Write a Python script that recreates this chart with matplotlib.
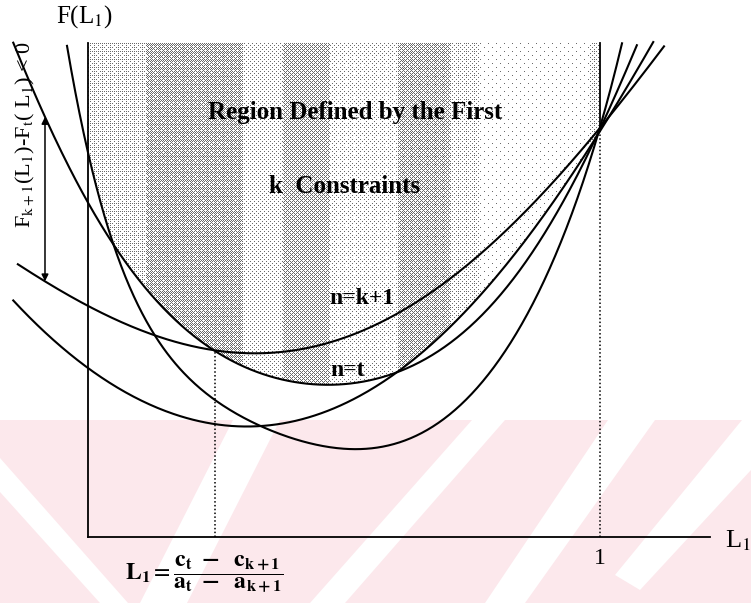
import numpy as np
import matplotlib.pyplot as plt
from matplotlib.patches import Polygon

plt.rcParams['font.family'] = 'Liberation Serif'
plt.rcParams['mathtext.fontset'] = 'stix'

# F_n(L1) (L1, F)
t_L = [-0.146, -0.084, 0.0, 0.047, 0.141, 0.248, 0.381, 0.492, 0.576, 0.609, 0.707, 0.805, 0.980, 1.0, 1.072]
t_F = [1.214, 1.034, 0.816, 0.730, 0.570, 0.452, 0.393, 0.376, 0.386, 0.408, 0.479, 0.595, 0.951, 1.0, 1.209]

k1_L = [-0.137, -0.084, 0.0, 0.141, 0.248, 0.350, 0.479, 0.596, 0.707, 0.771, 0.975, 1.0, 1.125]
k1_F = [0.663, 0.631, 0.577, 0.496, 0.452, 0.442, 0.477, 0.545, 0.644, 0.713, 0.951, 1.0, 1.214]

d_L = [-0.146, -0.049, 0.0, 0.121, 0.244, 0.316, 0.414, 0.492, 0.576, 0.643, 0.740, 0.824, 0.975, 1.0, 1.104]
d_F = [0.582, 0.459, 0.418, 0.332, 0.275, 0.263, 0.287, 0.329, 0.386, 0.447, 0.550, 0.676, 0.951, 1.0, 1.214]

e_L = [-0.041, 0.0, 0.037, 0.047, 0.107, 0.244, 0.342, 0.453, 0.576, 0.639, 0.723, 0.789, 0.840, 0.867, 0.986, 1.0, 1.043]
e_F = [1.214, 0.934, 0.762, 0.730, 0.558, 0.344, 0.263, 0.214, 0.238, 0.256, 0.312, 0.393, 0.501, 0.590, 0.951, 1.0, 1.214]

L_cross = 0.248   # (c_t - c_k+1) / (a_t - a_k+1)
L_arrow = -0.084
F_top = 1.214
L_axis_end = 1.215

W, H = 751, 603
fig = plt.figure(figsize=(W / 100, H / 100), dpi=100)
ax = fig.add_axes([0, 0, 1, 1])
ax.set_xlim(-88 / 512, 663 / 512)
ax.set_ylim(-66 / 407, 537 / 407)
ax.axis('off')


def fpx(x, y):
    return (x / W, 1 - y / H)


# pink watermark band with white diagonal stripes
ax.add_patch(Polygon([fpx(0, 420), fpx(W, 420), fpx(W, H), fpx(0, H)],
                     closed=True, transform=fig.transFigure,
                     facecolor='#fce8ec', edgecolor='none', zorder=0))
stripes = [
    [(0, 458), (0, 492), (100, 603), (128, 603)],
    [(233, 420), (280, 420), (187, 603), (140, 603)],
    [(472, 420), (505, 420), (345, 603), (310, 603)],
    [(608, 420), (655, 420), (525, 603), (485, 603)],
    [(742, 420), (751, 420), (751, 470), (640, 590), (615, 575)],
]
for s in stripes:
    ax.add_patch(Polygon([fpx(x, y) for x, y in s], closed=True,
                         transform=fig.transFigure, facecolor='white',
                         edgecolor='none', zorder=0.5))


def fit(L, F, deg):
    return np.poly1d(np.polyfit(L, F, deg))


curves = [
    (fit(t_L, t_F, 6), t_L[0], t_L[-1]),
    (fit(k1_L, k1_F, 4), k1_L[0], k1_L[-1]),
    (fit(d_L, d_F, 5), d_L[0], d_L[-1]),
    (fit(e_L, e_F, 6), e_L[0], e_L[-1]),
]
f_t, f_k1, f_d, f_e = [c[0] for c in curves]

# shaded region above the first k constraints
xs = np.linspace(0, 1, 400)
env = np.maximum.reduce([f_t(xs), f_d(xs), f_e(xs)])
region = Polygon(np.column_stack([np.r_[xs, 1, 0], np.r_[env, F_top, F_top]]),
                 closed=True, facecolor='none', edgecolor='none')
ax.add_patch(region)

# halftone stipple, banded across L1
bayer = np.array([[0, 32, 8, 40, 2, 34, 10, 42],
                  [48, 16, 56, 24, 50, 18, 58, 26],
                  [12, 44, 4, 36, 14, 46, 6, 38],
                  [60, 28, 52, 20, 62, 30, 54, 22],
                  [3, 35, 11, 43, 1, 33, 9, 41],
                  [51, 19, 59, 27, 49, 17, 57, 25],
                  [15, 47, 7, 39, 13, 45, 5, 37],
                  [63, 31, 55, 23, 61, 29, 53, 21]]) / 64.0
bands = [(88, 147, 0.16), (147, 243, 0.42), (243, 283, 0.12), (283, 330, 0.36),
         (330, 398, 0.10), (398, 450, 0.38), (450, 480, 0.14), (480, 590, 0.03),
         (590, 600, 0.14)]
ny, nx = 500, 512
dens = np.zeros(nx)
for a, b, v in bands:
    dens[a - 88:b - 88] = v
thr = np.tile(bayer, (ny // 8 + 1, nx // 8 + 1))[:ny, :nx]
dots = dens[None, :] > thr
img = np.zeros((ny, nx, 4))
img[..., :3] = 0.35
img[..., 3] = dots * 0.9
im = ax.imshow(img, extent=(0, 1, F_top - ny / 407, F_top), origin='upper',
               interpolation='nearest', aspect='auto', zorder=1)
im.set_clip_path(region)

for f, a, b in curves:
    xx = np.linspace(a, b, 400)
    ax.plot(xx, f(xx), color='black', lw=1.5, zorder=3)

# axes
ax.plot([0, 0], [0, F_top], color='black', lw=1.3, zorder=3)
ax.plot([0, L_axis_end], [0, 0], color='black', lw=1.3, zorder=3)
ax.plot([1, 1], [1, F_top], color='black', lw=1.3, zorder=3)
ax.plot([1, 1], [0, 1], color='black', lw=1.1, ls=(0, (1, 1.5)), zorder=3)
ax.plot([L_cross, L_cross], [0, f_t(L_cross)], color='black', lw=1.1,
        ls=(0, (1, 1.5)), zorder=3)

# F_k+1 - F_t gap arrow
ax.annotate('', xy=(L_arrow, f_k1(L_arrow)), xytext=(L_arrow, f_t(L_arrow)),
            arrowprops=dict(arrowstyle='<|-|>', color='black', lw=1.1,
                            mutation_scale=10, shrinkA=0, shrinkB=0), zorder=4)

ax.text(-0.063, 1.278, r'F(L$_1$)', fontsize=18, ha='left', va='center')
ax.text(-0.123, 0.988,
        r'F$_{\mathrm{k+1}}$(L$_{\mathrm{1}}$)-F$_{\mathrm{t}}$( L$_{\mathrm{1}}$) < 0',
        fontsize=16, rotation=90, ha='center', va='center')
ax.text(0.521, 1.044, 'Region Defined by the First', fontsize=18,
        fontweight='bold', ha='center', va='center')
ax.text(0.502, 0.860, 'k  Constraints', fontsize=18, fontweight='bold',
        ha='center', va='center')
ax.text(0.535, 0.585, 'n=k+1', fontsize=17, fontweight='bold', ha='center', va='center')
ax.text(0.506, 0.410, 'n=t', fontsize=17, fontweight='bold', ha='center', va='center')
ax.text(1.0, -0.052, '1', fontsize=17, ha='center', va='center')
ax.text(1.244, -0.01, r'L$_1$', fontsize=19, ha='left', va='center')
ax.text(0.228, -0.091,
        r'$\mathbf{L_1} = \dfrac{\mathbf{c_t\ -\ \ c_{k+1}}}{\mathbf{a_t\ -\ \ a_{k+1}}}$',
        fontsize=17, ha='center', va='center')

fig.savefig('out.png', dpi=100)
